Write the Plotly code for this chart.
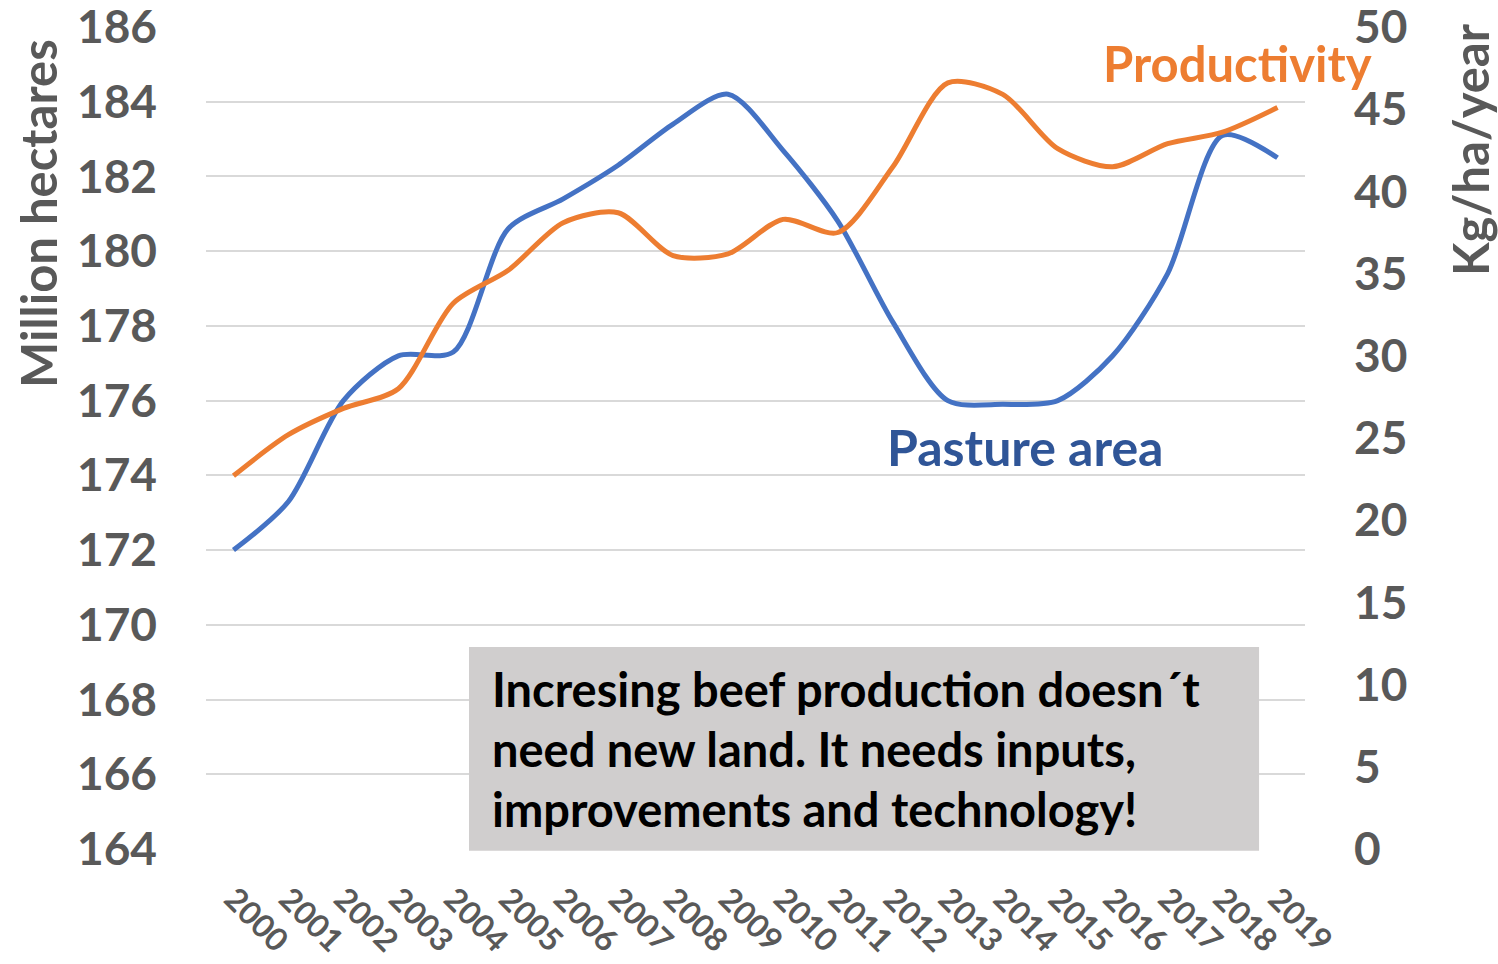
import plotly.graph_objects as go

years = [str(y) for y in range(2000, 2020)]
pasture_area = [172.0, 173.3, 176.0, 177.2, 177.3, 180.6, 181.4, 182.3, 183.4, 184.2,
                182.7, 180.8, 178.1, 176.0, 175.9, 176.0, 177.2, 179.4, 183.1, 182.5]
productivity = [22.7, 25.2, 26.8, 28.0, 33.2, 35.2, 38.1, 38.7, 36.1, 36.2,
                38.3, 37.5, 41.5, 46.6, 45.9, 42.6, 41.5, 42.9, 43.6, 45.1]

left_ticks = list(range(164, 187, 2))
right_ticks = list(range(0, 51, 5))
box_lines = ["Incresing beef production doesn´t",
             "need new land. It needs inputs,",
             "improvements and technology!"]

FONT = "Lato"
GREY = "#595959"

fig = go.Figure()
fig.add_trace(go.Scatter(x=years, y=pasture_area, mode="lines", name="Pasture area",
                         line=dict(color="#4472C4", width=5, shape="spline", smoothing=0.8),
                         yaxis="y"))
fig.add_trace(go.Scatter(x=years, y=productivity, mode="lines", name="Productivity",
                         line=dict(color="#ED7D31", width=5, shape="spline", smoothing=0.8),
                         yaxis="y2"))

fig.update_layout(
    width=1498, height=964,
    margin=dict(l=206, r=193, t=27, b=115),
    paper_bgcolor="white", plot_bgcolor="white",
    showlegend=False,
    font=dict(family=FONT, color=GREY),
    xaxis=dict(type="category", range=[-0.5, 19.5], tickangle=45, automargin=False,
               showgrid=False, showline=False, ticks="", ticklabeloverflow="allow",
               tickfont=dict(family=FONT, size=32, color=GREY, weight="bold"),
               ticklabelstandoff=24),
    yaxis=dict(range=[164, 186], tickvals=left_ticks, showgrid=True, automargin=False,
               gridcolor="#D9D9D9", gridwidth=1.5, zeroline=False, showline=False,
               ticklabeloverflow="allow",
               tickfont=dict(family=FONT, size=46, color=GREY, weight="bold"),
               ticklabelstandoff=48),
    yaxis2=dict(range=[0, 50], tickvals=right_ticks, overlaying="y", side="right",
                showgrid=False, zeroline=False, showline=False, automargin=False,
                ticklabeloverflow="allow",
                tickfont=dict(family=FONT, size=46, color=GREY, weight="bold"),
                ticklabelstandoff=48),
)

# grey message box
fig.add_shape(type="rect", xref="paper", yref="paper",
              x0=0.2393, x1=0.9582, y0=-0.002, y1=0.2457,
              fillcolor="#D0CECE", line=dict(width=0), layer="above")

for i, line in enumerate(box_lines):
    fig.add_annotation(text=line, xref="paper", yref="paper",
                       x=0.2584, y=0.1946 - i * 0.073, xanchor="left", yanchor="middle",
                       showarrow=False, align="left",
                       font=dict(family=FONT, size=47, color="#000000", weight="bold"))

fig.add_annotation(text="Productivity", xref="paper", yref="paper", x=0.939, y=0.956,
                   xanchor="center", yanchor="middle", showarrow=False,
                   font=dict(family=FONT, size=49, color="#ED7D31", weight="bold"))
fig.add_annotation(text="Pasture area", xref="paper", yref="paper", x=0.745, y=0.489,
                   xanchor="center", yanchor="middle", showarrow=False,
                   font=dict(family=FONT, size=50, color="#2F5597", weight="bold"))

# axis titles
fig.add_annotation(text="Million hectares", xref="paper", yref="paper",
                   x=(38 - 206) / 1099, y=(849 - 214) / 822, textangle=-90,
                   xanchor="center", yanchor="middle", showarrow=False,
                   font=dict(family=FONT, size=49, color=GREY, weight="bold"))
fig.add_annotation(text="Kg/ha/year", xref="paper", yref="paper",
                   x=(1470 - 206) / 1099, y=(849 - 150) / 822, textangle=-90,
                   xanchor="center", yanchor="middle", showarrow=False,
                   font=dict(family=FONT, size=49, color=GREY, weight="bold"))

fig.write_html("out.html", config={"displayModeBar": False},
               post_script="document.body.style.margin='0';")
